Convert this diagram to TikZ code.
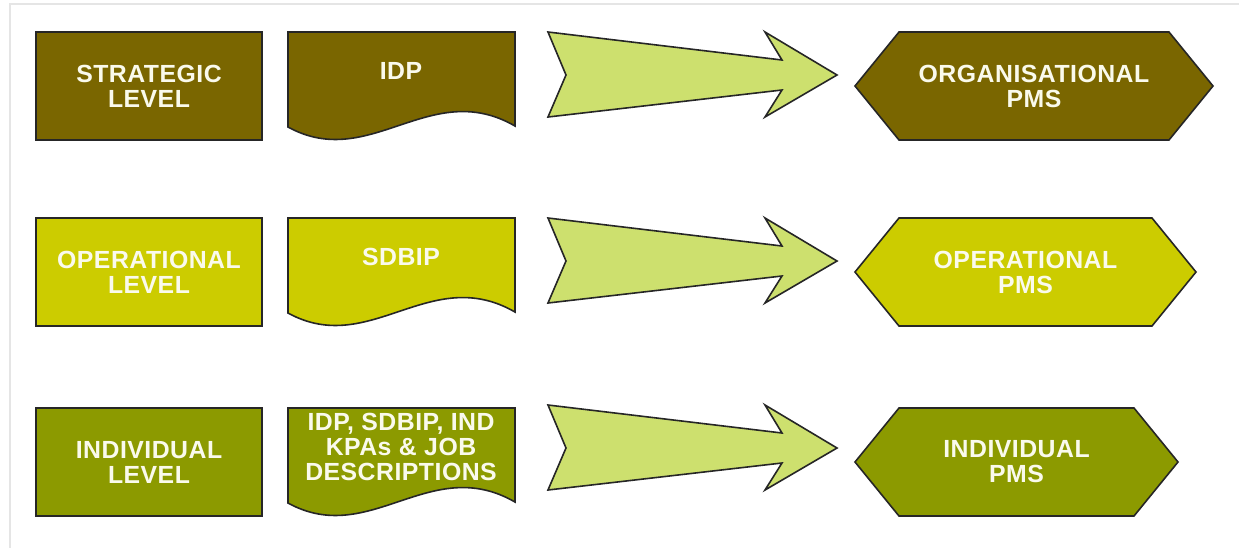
\documentclass[tikz,border=0pt]{standalone}
\usepackage{fontspec}
\setmainfont[LetterSpace=2]{Liberation Sans}
\definecolor{strat}{RGB}{122,102,0}
\definecolor{oper}{RGB}{204,204,0}
\definecolor{indiv}{RGB}{140,154,0}
\definecolor{arrowfill}{RGB}{205,224,110}
\definecolor{txt}{RGB}{250,250,236}
\tikzset{
  shapeline/.style={draw=black!85, line width=0.8pt, line join=miter},
  lbl/.style={text=txt, font=\bfseries\fontsize{12.4}{12.5}\selectfont, align=center, inner sep=0pt},
  bigarrow/.style={shapeline, fill=arrowfill}
}
\newcommand{\pmsrow}[6]{%
  % #1 top y, #2 colour, #3 left label, #4 doc label, #5 hex right x, #6 hex label
  \begin{scope}[shift={(0,#1)}]
    \path[shapeline, fill=#2] (36,0) rectangle (262,108);
    \node[lbl] (lvl#2) at (149,54) {#3};
    \path[shapeline, fill=#2] (288,0) -- (515,0) -- (515,94)
      .. controls (430,45) and (370,140) .. (288,95) -- cycle;
    \node[lbl] (doc#2) at (401,39) {#4};
    \path[shapeline, fill=#2] (855,54) -- (899,0) -- ({#5-44},0) -- (#5,54)
      -- ({#5-44},108) -- (899,108) -- cycle;
    \node[lbl] (pms#2) at ({(855+#5)/2},54) {#6};
  \end{scope}}
\newcommand{\rowarrow}[2]{%
  \begin{scope}[shift={(0,#1)}]
    \path[bigarrow] (548,0) -- (782,28) -- (765,0) -- (837,43) -- (765,85)
      -- (782,58) -- (548,85) -- (566,43) -- cycle;
    \coordinate (tip#2) at (837,43);
  \end{scope}}
\begin{document}
\begin{tikzpicture}[x=0.5pt,y=-0.5pt]
  \useasboundingbox (0,0) rectangle (1239,548);
  \fill[white] (0,0) rectangle (1239,548);
  \draw[black!10, line width=1.2pt] (10,548) -- (10,4) -- (1239,4);
  \pmsrow{32}{strat}{STRATEGIC\\LEVEL}{IDP}{1213}{ORGANISATIONAL\\PMS}
  \pmsrow{218}{oper}{OPERATIONAL\\LEVEL}{SDBIP}{1196}{OPERATIONAL\\PMS}
  \pmsrow{408}{indiv}{INDIVIDUAL\\LEVEL}{IDP, SDBIP, IND\\KPAs \& JOB\\DESCRIPTIONS}{1178}{INDIVIDUAL\\PMS}
  \rowarrow{32}{a}
  \rowarrow{218}{b}
  \rowarrow{405}{c}
\end{tikzpicture}
\end{document}
